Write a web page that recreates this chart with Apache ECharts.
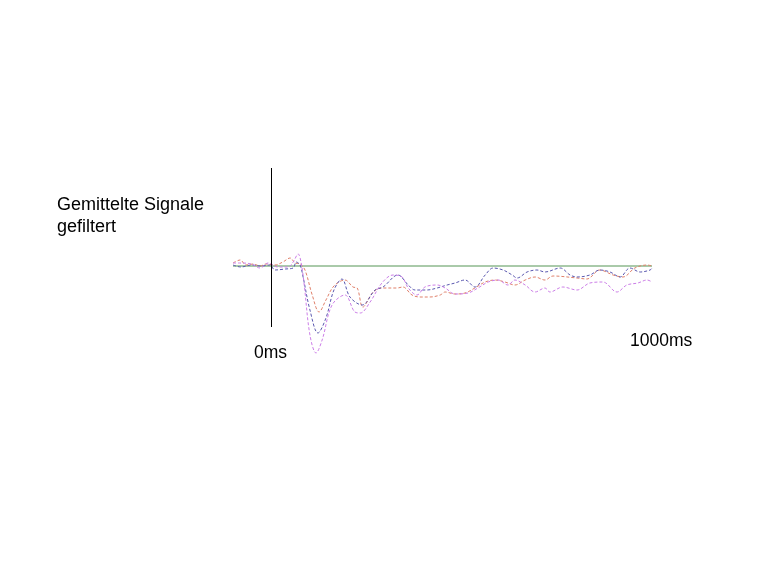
<!DOCTYPE html>
<html>
<head>
<meta charset="utf-8">
<script src="https://cdn.jsdelivr.net/npm/echarts@6/dist/echarts.min.js"></script>
<style>
  html, body { margin: 0; padding: 0; background: #fff; }
  #chart { width: 782px; height: 570px; }
</style>
</head>
<body>
<div id="chart"></div>
<script>
// time in ms, amplitude relative to the baseline (up = positive)
const blueT = [-100,-79,-52,-26,-3,10,37,58,66,76,84,102,123,144,165,186,207,239,273,294,333,360,378,409,436,462,483,509,535,562,583,609,633,646,672,698,719,759,785,803,837,863,890,916,942,969,995,1000]
const blueV = [1,-1,1,0,1,-4,-3,-2,4,1,-11,-44,-67,-52,-24,-13,-31,-39,-24,-21,-9,-19,-24,-24,-22,-19,-17,-14,-21,-9,-2,-4,-9,-12,-6,-4,-6,-2,-9,-11,-9,-4,-6,-11,-2,-6,-4,-2]

const redT = [-100,-81,-66,-47,-29,-13,10,31,50,63,76,89,108,126,144,165,194,215,226,241,268,291,331,346,370,391,417,444,457,483,509,535,562,588,614,640,667,693,719,740,803,829,863,898,924,955,987,1000]
const redV = [3,6,1,2,0,2,1,4,8,3,2,-4,-29,-46,-34,-20,-14,-21,-22,-41,-26,-22,-22,-21,-29,-31,-31,-29,-26,-28,-27,-22,-16,-14,-16,-19,-14,-11,-14,-10,-12,-13,-4,-9,-11,-2,1,0]

const pinkT = [-100,-79,-52,-29,-8,18,45,58,71,79,87,102,118,134,160,194,220,234,260,291,320,344,360,383,404,436,457,483,517,543,570,596,622,640,667,693,719,732,766,803,837,871,908,934,963,987,1000]
const pinkV = [3,3,2,-2,3,-1,-1,4,12,3,-19,-69,-87,-74,-39,-29,-46,-47,-36,-17,-9,-11,-22,-29,-21,-19,-22,-28,-27,-22,-16,-14,-19,-14,-19,-26,-22,-26,-21,-24,-17,-16,-26,-19,-17,-14,-16]

const baseT = [-100, 1000]
const baseV = [0, 0]

// extent of the stimulus marker at 0 ms
const markerTop = 98
const markerBottom = -61

const zip = (t, v) => t.map((x, i) => [x, v[i]])

const trace = (name, t, v, color) => ({
    name,
    type: 'line',
    data: zip(t, v),
    smooth: 0.35,
    showSymbol: false,
    lineStyle: { color, width: 1, type: [3, 2] },
    z: 3
})

const font = '"Liberation Sans", Arial, sans-serif'

const chart = echarts.init(document.getElementById('chart'), null, { renderer: 'canvas' })

chart.setOption({
    animation: false,
    backgroundColor: '#fff',
    grid: { left: 233, right: 130, top: 146, height: 240 },
    xAxis: { type: 'value', min: -100, max: 1000, show: false, splitLine: { show: false } },
    yAxis: { type: 'value', min: -120, max: 120, show: false, splitLine: { show: false } },
    series: [
        {
            name: 'Basis',
            type: 'line',
            data: zip(baseT, baseV),
            showSymbol: false,
            lineStyle: { color: '#559555', width: 1 },
            z: 2,
            markLine: {
                silent: true,
                symbol: ['none', 'none'],
                label: { show: false },
                lineStyle: { color: '#000', width: 1, type: 'solid' },
                data: [[{ coord: [0, markerTop] }, { coord: [0, markerBottom] }]]
            }
        },
        trace('Signal 1', redT, redV, '#e0806a'),
        trace('Signal 2', blueT, blueV, '#5a58b0'),
        trace('Signal 3', pinkT, pinkV, '#cc7ee8')
    ],
    graphic: [
        {
            type: 'text', left: 57, top: 194,
            style: { text: 'Gemittelte Signale\ngefiltert', font: '18px ' + font, fill: '#000', lineHeight: 22 }
        },
        {
            type: 'text', left: 254, top: 344,
            style: { text: '0ms', font: '17.5px ' + font, fill: '#000' }
        },
        {
            type: 'text', left: 630, top: 332,
            style: { text: '1000ms', font: '17.5px ' + font, fill: '#000' }
        }
    ]
})
</script>
</body>
</html>
